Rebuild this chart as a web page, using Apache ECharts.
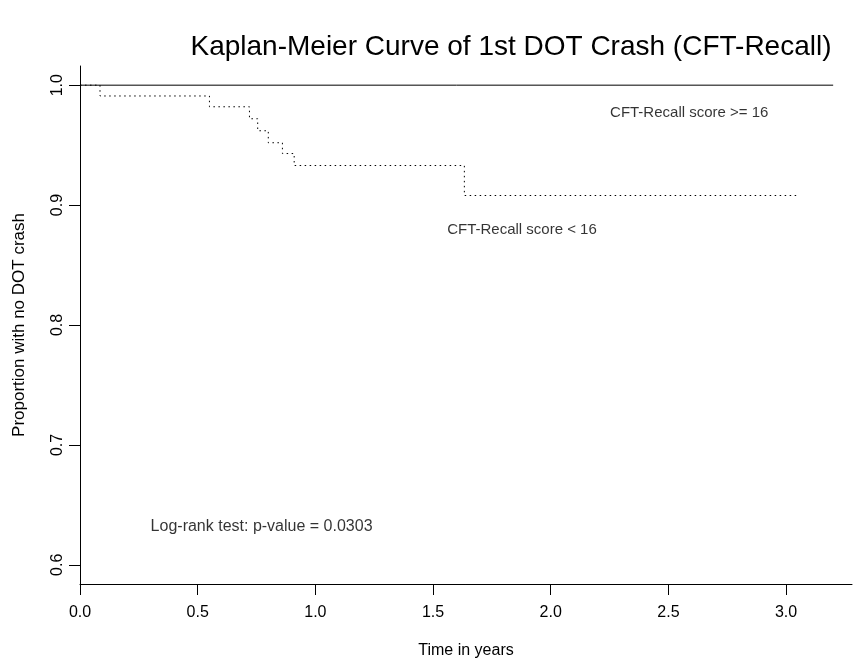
<!DOCTYPE html>
<html>
<head>
<meta charset="utf-8">
<script src="https://cdn.jsdelivr.net/npm/echarts@6/dist/echarts.min.js"></script>
<style>
    html, body { margin: 0; padding: 0; background: #fff; }
    #km_chart { width: 854px; height: 665px; }
</style>
</head>
<body>
<div id="km_chart"></div>
<script>
// survival steps, group with CFT-Recall score < 16
let lowTimes = [0, 0.085, 0.55, 0.72, 0.755, 0.80, 0.86, 0.91, 1.633, 3.057];
let lowSurv = [1.0, 0.991, 0.982, 0.972, 0.962, 0.952, 0.943, 0.933, 0.908, 0.908];

// group with CFT-Recall score >= 16 (no events)
let highTimes = [0, 3.2];
let highSurv = [1.0, 1.0];

let xTicks = [0, 0.5, 1.0, 1.5, 2.0, 2.5, 3.0];
let yTicks = [0.6, 0.7, 0.8, 0.9, 1.0];

// text notes in data units: [x, y, text]
let notes = [
    [2.252, 0.9773, 'CFT-Recall score >= 16'],
    [1.56, 0.8794, 'CFT-Recall score < 16'],
    [0.30, 0.6315, 'Log-rank test: p-value = 0.0303']
];
let noteSizes = [15, 15, 16];

function pairs(xs, ys) {
    let out = [];
    for (let i = 0; i < xs.length; i++) {
        out.push([xs[i], ys[i]]);
    }
    return out;
}

function drawChart() {
    let chartDom = document.getElementById("km_chart");
    let myChart = echarts.init(chartDom, null, { renderer: 'canvas' });
    let font = 'Liberation Sans, Arial, sans-serif';

    let noteData = notes.map(function (n, i) {
        return {
            value: [n[0], n[1]],
            label: { formatter: n[2], fontSize: noteSizes[i], color: '#000' }
        };
    });

    let option = {
        animation: false,
        backgroundColor: '#ffffff',
        textStyle: { fontFamily: font, color: '#000' },
        title: {
            text: 'Kaplan-Meier Curve of 1st DOT Crash (CFT-Recall)',
            left: 506,
            top: 28,
            textAlign: 'center',
            textStyle: { fontFamily: font, fontSize: 28, fontWeight: 'normal', color: '#000' }
        },
        grid: { left: 80, right: 2, top: 66, bottom: 81, containLabel: false },
        xAxis: {
            type: 'value',
            min: 0,
            max: 3.28,
            name: 'Time in years',
            nameLocation: 'middle',
            nameGap: 59,
            nameTextStyle: { fontFamily: font, fontSize: 16, color: '#000' },
            axisLine: { show: true, lineStyle: { color: '#000', width: 1 } },
            axisTick: { show: true, length: 11, customValues: xTicks, lineStyle: { color: '#000' } },
            axisLabel: {
                customValues: xTicks,
                margin: 21,
                fontSize: 16,
                color: '#000',
                formatter: function (v) { return v.toFixed(1); }
            },
            splitLine: { show: false }
        },
        yAxis: {
            type: 'value',
            min: 0.584,
            max: 1.016,
            name: 'Proportion with no DOT crash',
            nameLocation: 'middle',
            nameGap: 52,
            nameTextStyle: { fontFamily: font, fontSize: 17, color: '#000' },
            axisLine: { show: true, lineStyle: { color: '#000', width: 1 } },
            axisTick: { show: true, length: 11, customValues: yTicks, lineStyle: { color: '#000' } },
            axisLabel: {
                customValues: yTicks,
                rotate: 90,
                margin: 14,
                fontSize: 16,
                color: '#000',
                formatter: function (v) { return v.toFixed(1); }
            },
            splitLine: { show: false }
        },
        series: [
            {
                name: 'score >= 16',
                type: 'line',
                step: 'end',
                symbol: 'none',
                data: pairs(highTimes, highSurv),
                lineStyle: { color: '#000', width: 1, type: 'solid' },
                z: 3
            },
            {
                name: 'score < 16',
                type: 'line',
                step: 'end',
                symbol: 'none',
                data: pairs(lowTimes, lowSurv),
                lineStyle: { color: '#000', width: 1, type: [1.5, 3.5] },
                z: 2
            },
            {
                name: 'notes',
                type: 'scatter',
                symbolSize: 0,
                data: noteData,
                silent: true,
                label: {
                    show: true,
                    position: 'right',
                    distance: 0,
                    fontFamily: font,
                    color: '#000'
                }
            }
        ]
    };

    if (option && typeof option === 'object') {
        myChart.setOption(option);
    }
}

drawChart();
</script>
</body>
</html>
